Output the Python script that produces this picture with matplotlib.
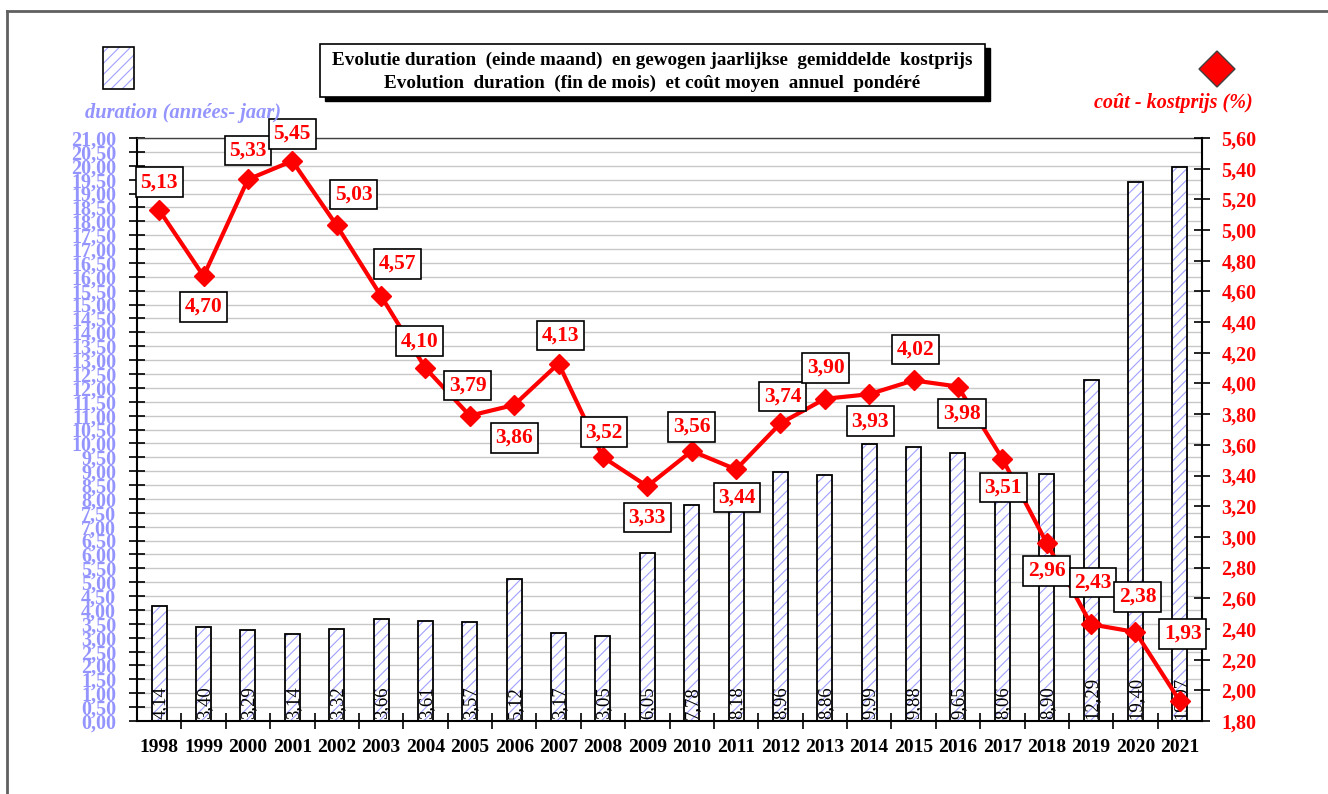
import matplotlib
matplotlib.use('Agg')
import matplotlib.pyplot as plt
from matplotlib.patches import Rectangle, Polygon
from matplotlib.lines import Line2D
from matplotlib.ticker import MultipleLocator, FixedLocator, FuncFormatter
import numpy as np

# ---------------- data ----------------
years = [str(y) for y in range(1998, 2022)]
duration = [4.14, 3.40, 3.29, 3.14, 3.32, 3.66, 3.61, 3.57, 5.12, 3.17, 3.05, 6.05,
            7.78, 8.18, 8.96, 8.86, 9.99, 9.88, 9.65, 8.06, 8.90, 12.29, 19.40, 19.97]
cost = [5.13, 4.70, 5.33, 5.45, 5.03, 4.57, 4.10, 3.79, 3.86, 4.13, 3.52, 3.33,
        3.56, 3.44, 3.74, 3.90, 3.93, 4.02, 3.98, 3.51, 2.96, 2.43, 2.38, 1.93]
title_lines = ["Evolutie duration  (einde maand)  en gewogen jaarlijkse  gemiddelde  kostprijs",
               "Evolution  duration  (fin de mois)  et coût moyen  annuel  pondéré"]
left_label = "duration (années- jaar)"
right_label = "coût - kostprijs (%)"

# label box offsets (pixels) – layout only
lab_dx = [0, 0, 0, 0, 17, 16, -6, -2, 0, 2, 1, 0, 0, 1, 2, 1, 1, 2, 4, 1, 0, 2, 2, 3]
lab_dy = [28, -31, 29, 27, 31, 32, 27, 30, -33, 28, 25, -31, 24, -28, 27, 31, -27, 31, -27, -29, -28, 42, 35, 67]

SERIF = ['Liberation Serif', 'DejaVu Serif']
BLUE = '#9494ff'
RED = '#ff0000'

W, H = 1328, 794
fig = plt.figure(figsize=(W / 100, H / 100), dpi=100)


def fx(px):
    return px / W


def fy(py):
    return 1 - py / H


def comma(v):
    return f"{v:.2f}".replace('.', ',')


L, R, T, B = 137, 1202, 138, 721
ax1 = fig.add_axes([fx(L), fy(B), (R - L) / W, (B - T) / H])
x = np.arange(len(years))
ax1.set_xlim(-0.5, len(years) - 0.5)
ax1.set_ylim(0, 21)
ax1.set_axisbelow(True)

plt.rcParams['hatch.linewidth'] = 0.8
bw = 0.34
ax1.bar(x, duration, width=bw, color='white', edgecolor='#a0a0ff', hatch='///', linewidth=0, zorder=2)
ax1.bar(x, duration, width=bw, fill=False, edgecolor='black', linewidth=1.3, zorder=3)
for xi, v in zip(x, duration):
    ax1.text(xi + 0.02, 0.06, comma(v), rotation=90, ha='center', va='bottom',
             fontsize=13.5, family=SERIF, color='black', zorder=4)

ax1.yaxis.set_major_locator(MultipleLocator(0.5))
ax1.yaxis.set_major_formatter(FuncFormatter(lambda v, p: comma(v)))
ax1.tick_params(axis='y', direction='inout', length=12, width=1.2, pad=9,
                labelsize=14.5, labelcolor=BLUE)
for lab in ax1.get_yticklabels():
    lab.set_family(SERIF)
    lab.set_fontweight('bold')
ax1.grid(axis='y', color='#c8c8c8', linewidth=1.0)

ax1.set_xticks(x)
ax1.set_xticklabels(years, family=SERIF, fontweight='bold', fontsize=14)
ax1.xaxis.set_minor_locator(FixedLocator(np.arange(0.5, len(years) - 0.5, 1)))
ax1.tick_params(axis='x', which='major', length=0, pad=13)
ax1.tick_params(axis='x', which='minor', direction='inout', length=12, width=1.2)

for s in ['left', 'right', 'bottom']:
    ax1.spines[s].set_linewidth(1.5)
ax1.spines['top'].set_linewidth(1.0)
ax1.spines['top'].set_color('#404040')

ax2 = ax1.twinx()
ax2.set_ylim(1.8, 5.6)
ax2.yaxis.set_major_locator(MultipleLocator(0.2))
ax2.yaxis.set_major_formatter(FuncFormatter(lambda v, p: comma(v)))
ax2.tick_params(axis='y', direction='inout', length=12, width=1.2, pad=8,
                labelsize=14.5, labelcolor=RED)
for lab in ax2.get_yticklabels():
    lab.set_family(SERIF)
    lab.set_fontweight('bold')
for s in ax2.spines.values():
    s.set_visible(False)

ax2.plot(x, cost, color=RED, linewidth=3, marker='D', markersize=10,
         markerfacecolor=RED, markeredgecolor=RED, zorder=5)
for xi, v, dx, dy in zip(x, cost, lab_dx, lab_dy):
    ax2.annotate(comma(v), (xi, v), xytext=(dx, dy), textcoords='offset pixels',
                 ha='center', va='center', fontsize=15.5, fontweight='bold', family=SERIF,
                 color=RED, zorder=6,
                 bbox=dict(boxstyle='square,pad=0.22', fc='white', ec='black', lw=1.2))

# ---------------- title box with shadow ----------------
x0, y0, x1, y1 = 320, 44, 985, 97
fig.add_artist(Rectangle((fx(x0 + 5), fy(y1 + 4)), (x1 - x0) / W, (y1 - y0) / H,
                         transform=fig.transFigure, fc='black', ec='black', zorder=10))
fig.add_artist(Rectangle((fx(x0), fy(y1)), (x1 - x0) / W, (y1 - y0) / H,
                         transform=fig.transFigure, fc='white', ec='black', lw=1.2, zorder=11))
fig.text(fx(652), fy(60), title_lines[0], ha='center', va='center', fontsize=13.8,
         fontweight='bold', family=SERIF, zorder=12)
fig.text(fx(652), fy(83), title_lines[1], ha='center', va='center', fontsize=13.8,
         fontweight='bold', family=SERIF, zorder=12)

# ---------------- legend elements ----------------
fig.add_artist(Rectangle((fx(103), fy(89)), 31 / W, 42 / H, transform=fig.transFigure,
                         fc='white', ec='#a0a0ff', hatch='///', lw=0, zorder=10))
fig.add_artist(Rectangle((fx(103), fy(89)), 31 / W, 42 / H, transform=fig.transFigure,
                         fill=False, ec='black', lw=1.2, zorder=11))
fig.text(fx(183), fy(113), left_label, ha='center', va='center', fontsize=14.7,
         fontweight='bold', style='italic', family=SERIF, color=BLUE)

cx, cy, hr = 1217, 69, 18
fig.add_artist(Polygon([(fx(cx), fy(cy - hr)), (fx(cx + hr), fy(cy)), (fx(cx), fy(cy + hr)),
                        (fx(cx - hr), fy(cy))], closed=True, transform=fig.transFigure,
                       fc=RED, ec='#404040', lw=1.0, zorder=10))
fig.text(fx(1173), fy(103), right_label, ha='center', va='center', fontsize=14.5,
         fontweight='bold', style='italic', family=SERIF, color=RED)

# ---------------- outer border ----------------
fig.add_artist(Line2D([fx(7), fx(7)], [fy(794), fy(11)], transform=fig.transFigure,
                      color='#606060', lw=2))
fig.add_artist(Line2D([fx(7), fx(1328)], [fy(11), fy(11)], transform=fig.transFigure,
                      color='#606060', lw=2))

fig.savefig('out.png', dpi=100)
